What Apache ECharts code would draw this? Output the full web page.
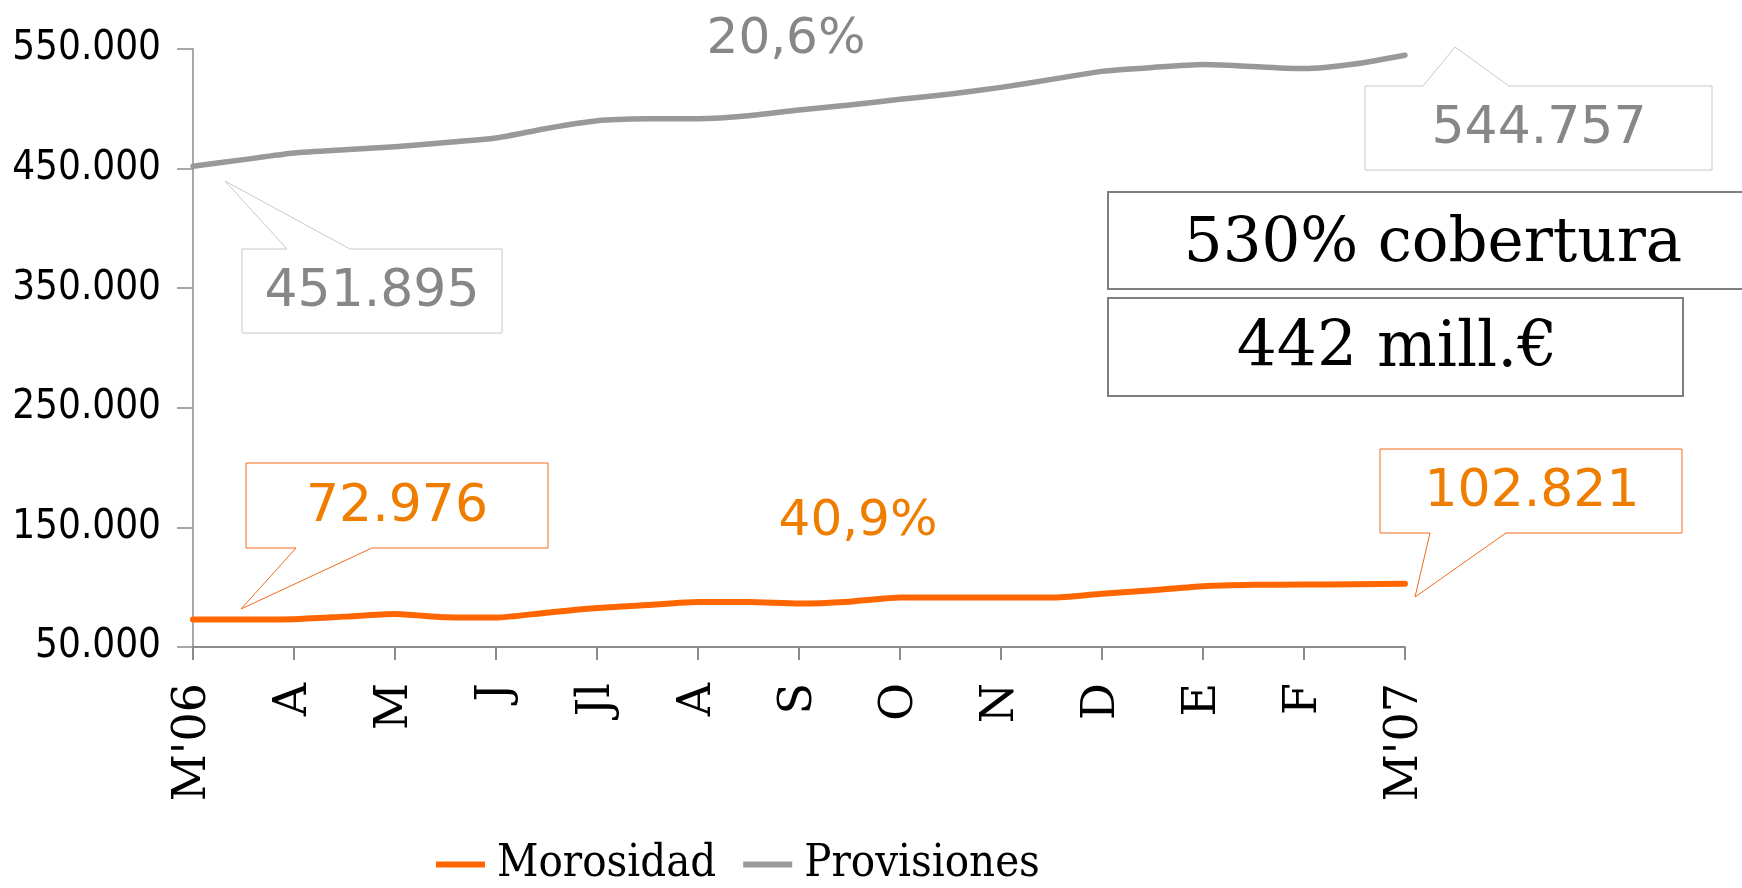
<!DOCTYPE html>
<html>
<head>
<meta charset="utf-8">
<script src="https://cdn.jsdelivr.net/npm/echarts@6/dist/echarts.min.js"></script>
<style>
  html, body { margin: 0; padding: 0; background: #fff; }
  #chart { width: 1742px; height: 888px; }
</style>
</head>
<body>
<div id="chart"></div>
<script>
// month ticks; the series are sampled twice a month
const months = ["M'06", 'A', 'M', 'J', 'Jl', 'A', 'S', 'O', 'N', 'D', 'E', 'F', "M'07"];
const seriesNames = ['Morosidad', 'Provisiones'];

const morosidad = [
    72976, 73000, 73200, 75400, 77600, 74800, 74600, 78700, 82600, 85100, 87600, 87600, 86300,
    87900, 91300, 91300, 91300, 91300, 94600, 97400, 100800, 102000, 102200, 102500, 102821
];
const provisiones = [
    451895, 457500, 463000, 465800, 468300, 471800, 475600, 483600, 490000, 491600, 491700, 494200, 499000,
    503200, 507900, 512400, 517900, 524600, 531300, 534600, 537000, 535300, 533600, 537400, 544757
];

const startValues = [72976, 451895];
const endValues = [102821, 544757];
const growthLabels = ['40,9%', '20,6%'];
const coverageLabels = ['530% cobertura', '442 mill.€'];

const yMin = 50000, yMax = 550000, yStep = 100000;

const ORANGE = '#ff6600';
const ORANGE_TXT = '#ef7d00';
const GREY = '#999999';
const GREY_TXT = '#878787';

// one category per half month, only the month ones get a label
const categories = [];
months.forEach((m, i) => {
    categories.push(m);
    if (i < months.length - 1) categories.push('');
});

function fmt(v) {
    return String(v).replace(/\B(?=(\d{3})+(?!\d))/g, '.');
}

function callout(points, color) {
    return {
        type: 'polygon',
        shape: { points: points },
        style: { fill: '#fff', stroke: color, lineWidth: 1 },
        z: 10
    };
}

function label(text, x, y, size, color, family) {
    return {
        type: 'text',
        x: x, y: y,
        style: {
            text: text,
            fill: color,
            font: size + 'px "' + (family || 'DejaVu Sans') + '"',
            textAlign: 'center',
            textVerticalAlign: 'middle'
        },
        z: 11
    };
}

const chart = echarts.init(document.getElementById('chart'));

const option = {
    animation: false,
    grid: { left: 193, right: 337, top: 49, bottom: 241, outerBoundsMode: 'none' },
    legend: {
        data: seriesNames,
        left: 431,
        top: 837,
        icon: 'rect',
        itemWidth: 49,
        itemHeight: 6,
        itemGap: 27,
        textStyle: {
            fontFamily: 'DejaVu Serif Condensed',
            fontSize: 45,
            color: '#000',
            padding: [0, 0, 0, 7]
        }
    },
    xAxis: {
        type: 'category',
        data: categories,
        boundaryGap: false,
        axisLine: { lineStyle: { color: '#8c8c8c', width: 2 } },
        axisTick: {
            length: 13,
            interval: 1,
            lineStyle: { color: '#8c8c8c', width: 2 }
        },
        axisLabel: {
            interval: 1,
            rotate: 90,
            margin: 36,
            fontFamily: 'DejaVu Serif',
            fontSize: 46,
            color: '#000'
        },
        splitLine: { show: false }
    },
    yAxis: {
        type: 'value',
        min: yMin,
        max: yMax,
        interval: yStep,
        axisLine: { show: true, lineStyle: { color: '#8c8c8c', width: 1.5 } },
        axisTick: { show: true, length: 16, lineStyle: { color: '#8c8c8c', width: 1.5 } },
        axisLabel: {
            margin: 32,
            fontFamily: 'DejaVu Sans Condensed',
            fontSize: 40,
            color: '#000',
            formatter: v => fmt(v)
        },
        splitLine: { show: false }
    },
    series: [
        {
            name: seriesNames[0],
            type: 'line',
            data: morosidad,
            smooth: 0.2,
            showSymbol: false,
            symbol: 'none',
            color: ORANGE,
            lineStyle: { color: ORANGE, width: 6, cap: 'round', join: 'round' }
        },
        {
            name: seriesNames[1],
            type: 'line',
            data: provisiones,
            smooth: 0.2,
            showSymbol: false,
            symbol: 'none',
            color: GREY,
            lineStyle: { color: GREY, width: 5.5, cap: 'round', join: 'round' }
        }
    ],
    graphic: [
        // provisiones callouts
        callout([[242, 249], [287, 249], [225, 181], [350, 249], [502, 249], [502, 333], [242, 333]], '#c8c8c8'),
        label(fmt(startValues[1]), 372, 292, 52, GREY_TXT),
        callout([[1365, 86], [1423, 86], [1455, 47], [1509, 86], [1712, 86], [1712, 170], [1365, 170]], '#c8c8c8'),
        label(fmt(endValues[1]), 1539, 129, 52, GREY_TXT),
        label(growthLabels[1], 786, 40, 50, GREY_TXT),

        // morosidad callouts
        callout([[246, 463], [548, 463], [548, 548], [372, 548], [241, 609], [296, 548], [246, 548]], '#f26b1d'),
        label(fmt(startValues[0]), 397, 507, 52, ORANGE_TXT),
        callout([[1380, 449], [1682, 449], [1682, 533], [1506, 533], [1415, 597], [1430, 533], [1380, 533]], '#f26b1d'),
        label(fmt(endValues[0]), 1532, 492, 52, ORANGE_TXT),
        label(growthLabels[0], 858, 522, 50, ORANGE_TXT),

        // coverage boxes
        {
            type: 'rect',
            shape: { x: 1108, y: 192, width: 640, height: 97 },
            style: { fill: '#fff', stroke: '#7f7f7f', lineWidth: 2 },
            z: 10
        },
        label(coverageLabels[0], 1433, 245, 61, '#000', 'DejaVu Serif'),
        {
            type: 'rect',
            shape: { x: 1108, y: 298, width: 575, height: 98 },
            style: { fill: '#fff', stroke: '#7f7f7f', lineWidth: 2 },
            z: 10
        },
        label(coverageLabels[1], 1397, 350, 63, '#000', 'DejaVu Serif')
    ]
};

chart.setOption(option);
</script>
</body>
</html>
